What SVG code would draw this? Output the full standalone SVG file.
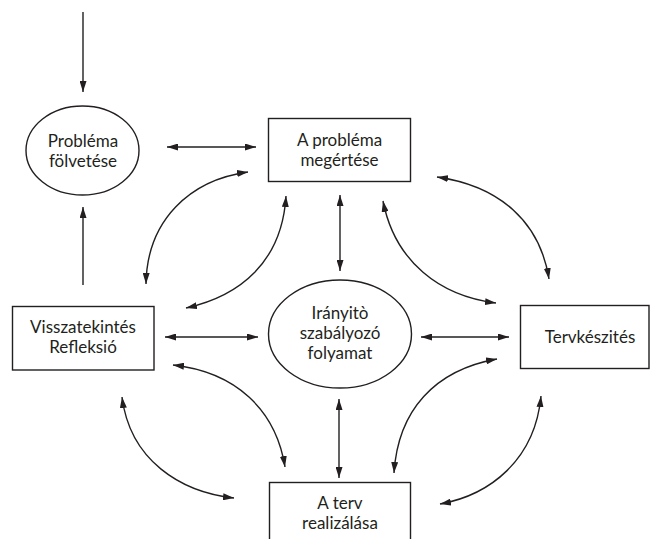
<svg xmlns="http://www.w3.org/2000/svg" width="651" height="539" viewBox="0 0 651 539">
<defs>
<marker id="ah" markerUnits="userSpaceOnUse" markerWidth="11" markerHeight="7" refX="11" refY="3.5" orient="auto-start-reverse">
<path d="M0,0 L11,3.5 L0,7 z" fill="#231f20"/>
</marker>
<style>
.shape{fill:#fff;stroke:#231f20;stroke-width:1.4}
.lbl{font-family:Lato,"Open Sans","Liberation Sans",sans-serif;font-size:17px;fill:#231f20;text-anchor:middle}
.c{fill:none;stroke:#231f20;stroke-width:1.4}
.one{marker-end:url(#ah)}
.two{marker-start:url(#ah);marker-end:url(#ah)}
</style>
</defs>
<rect width="651" height="539" fill="#fff"/>
<g id="connectors">
<path class="c one" d="M83,12 L83,92"/>
<path class="c one" d="M83,285 L83,207"/>
<path class="c two" d="M167,147 L256,147"/>
<path class="c two" d="M340,195 L340,271"/>
<path class="c two" d="M165,337 L258,337"/>
<path class="c two" d="M421,337 L509,337"/>
<path class="c two" d="M339,399 L339,478"/>
<path class="c two" d="M146,284 C147,220 190,180 248,172"/>
<path class="c two" d="M286,196 C282,262 240,296 186,308"/>
<path class="c two" d="M437,177 C500,186 540,222 549,279"/>
<path class="c two" d="M383,201 C395,262 440,296 496,303"/>
<path class="c two" d="M173,365 C236,372 276,410 285,467"/>
<path class="c two" d="M497,359 C435,370 398,410 394,473"/>
<path class="c two" d="M122,397 C130,460 180,492 234,498"/>
<path class="c two" d="M541,396 C535,460 490,495 440,504"/>
</g>
<g id="n-problema-folvetese">
<ellipse class="shape" cx="82.5" cy="150.5" rx="56.5" ry="44.5"/>
<text class="lbl" x="83" y="146.5">Probléma</text>
<text class="lbl" x="83" y="166.5">fölvetése</text>
</g>
<g id="n-problema-megertese">
<rect class="shape" x="268.5" y="118.5" width="142" height="63"/>
<text class="lbl" x="339.5" y="146">A probléma</text>
<text class="lbl" x="339.5" y="166">megértése</text>
</g>
<g id="n-iranyito">
<ellipse class="shape" cx="340" cy="334" rx="71.5" ry="54"/>
<text class="lbl" x="340" y="319">Irányitò</text>
<text class="lbl" x="340" y="339">szabályozó</text>
<text class="lbl" x="340" y="359">folyamat</text>
</g>
<g id="n-visszatekintes">
<rect class="shape" x="12.5" y="306.5" width="141.5" height="63.5"/>
<text class="lbl" x="83" y="333">Visszatekintés</text>
<text class="lbl" x="83" y="353">Refleksió</text>
</g>
<g id="n-tervkeszites">
<rect class="shape" x="520.5" y="305.5" width="128.5" height="63"/>
<text class="lbl" x="590" y="343">Tervkészités</text>
</g>
<g id="n-terv-realizalasa">
<rect class="shape" x="269.5" y="482.5" width="141" height="70"/>
<text class="lbl" x="340" y="509">A terv</text>
<text class="lbl" x="340" y="529">realizálása</text>
</g>
</svg>
